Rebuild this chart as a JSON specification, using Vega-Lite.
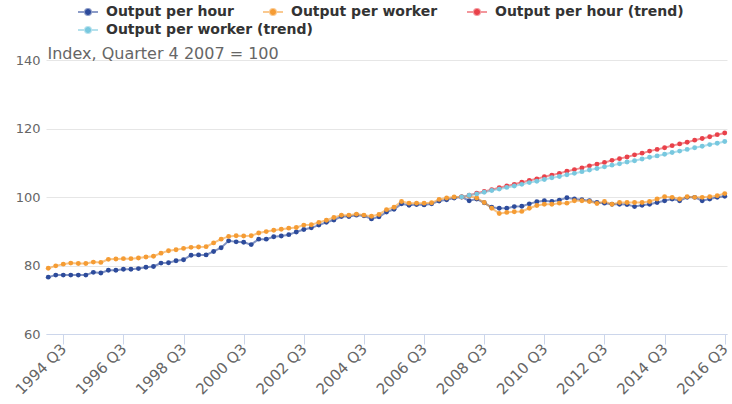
{
  "$schema": "https://vega.github.io/schema/vega-lite/v6.json",
  "width": 681,
  "height": 274,
  "autosize": {"type": "none"},
  "padding": {"left": 46, "top": 60, "right": 5, "bottom": 70},
  "background": "white",
  "config": {"font": "DejaVu Sans", "view": {"stroke": null}},
  "data": {"values": [
    {"q": "1994 Q1", "h": 76.6, "w": 79.2},
    {"q": "1994 Q2", "h": 77.2, "w": 79.9},
    {"q": "1994 Q3", "h": 77.2, "w": 80.4},
    {"q": "1994 Q4", "h": 77.2, "w": 80.7},
    {"q": "1995 Q1", "h": 77.2, "w": 80.6},
    {"q": "1995 Q2", "h": 77.2, "w": 80.6},
    {"q": "1995 Q3", "h": 78.0, "w": 81.0},
    {"q": "1995 Q4", "h": 77.8, "w": 80.9},
    {"q": "1996 Q1", "h": 78.6, "w": 81.8},
    {"q": "1996 Q2", "h": 78.6, "w": 81.9},
    {"q": "1996 Q3", "h": 78.9, "w": 82.0},
    {"q": "1996 Q4", "h": 78.9, "w": 82.0},
    {"q": "1997 Q1", "h": 79.1, "w": 82.2},
    {"q": "1997 Q2", "h": 79.5, "w": 82.5},
    {"q": "1997 Q3", "h": 79.7, "w": 82.7},
    {"q": "1997 Q4", "h": 80.7, "w": 83.6},
    {"q": "1998 Q1", "h": 80.8, "w": 84.3},
    {"q": "1998 Q2", "h": 81.4, "w": 84.6},
    {"q": "1998 Q3", "h": 81.7, "w": 85.0},
    {"q": "1998 Q4", "h": 83.0, "w": 85.3},
    {"q": "1999 Q1", "h": 83.1, "w": 85.4},
    {"q": "1999 Q2", "h": 83.1, "w": 85.5},
    {"q": "1999 Q3", "h": 84.1, "w": 86.6},
    {"q": "1999 Q4", "h": 85.2, "w": 87.7},
    {"q": "2000 Q1", "h": 87.2, "w": 88.5},
    {"q": "2000 Q2", "h": 86.9, "w": 88.7},
    {"q": "2000 Q3", "h": 86.8, "w": 88.6},
    {"q": "2000 Q4", "h": 86.1, "w": 88.7},
    {"q": "2001 Q1", "h": 87.7, "w": 89.5},
    {"q": "2001 Q2", "h": 87.7, "w": 89.9},
    {"q": "2001 Q3", "h": 88.4, "w": 90.3},
    {"q": "2001 Q4", "h": 88.6, "w": 90.6},
    {"q": "2002 Q1", "h": 89.0, "w": 90.9},
    {"q": "2002 Q2", "h": 89.8, "w": 91.1},
    {"q": "2002 Q3", "h": 90.5, "w": 91.8},
    {"q": "2002 Q4", "h": 91.0, "w": 91.9},
    {"q": "2003 Q1", "h": 91.8, "w": 92.6},
    {"q": "2003 Q2", "h": 92.6, "w": 93.2},
    {"q": "2003 Q3", "h": 93.3, "w": 94.0},
    {"q": "2003 Q4", "h": 94.3, "w": 94.7},
    {"q": "2004 Q1", "h": 94.3, "w": 94.7},
    {"q": "2004 Q2", "h": 94.7, "w": 95.0},
    {"q": "2004 Q3", "h": 94.5, "w": 94.7},
    {"q": "2004 Q4", "h": 93.6, "w": 94.4},
    {"q": "2005 Q1", "h": 94.2, "w": 94.9},
    {"q": "2005 Q2", "h": 95.6, "w": 96.3},
    {"q": "2005 Q3", "h": 96.4, "w": 97.0},
    {"q": "2005 Q4", "h": 98.0, "w": 98.7},
    {"q": "2006 Q1", "h": 97.6, "w": 98.2},
    {"q": "2006 Q2", "h": 97.8, "w": 98.2},
    {"q": "2006 Q3", "h": 97.7, "w": 98.2},
    {"q": "2006 Q4", "h": 98.0, "w": 98.3},
    {"q": "2007 Q1", "h": 98.8, "w": 99.3},
    {"q": "2007 Q2", "h": 99.2, "w": 99.7},
    {"q": "2007 Q3", "h": 99.7, "w": 100.0},
    {"q": "2007 Q4", "h": 100.0, "w": 100.0, "ht": 100.0, "wt": 100.0},
    {"q": "2008 Q1", "h": 98.9, "w": 100.3, "ht": 100.5, "wt": 100.5},
    {"q": "2008 Q2", "h": 99.4, "w": 99.7, "ht": 101.1, "wt": 100.9},
    {"q": "2008 Q3", "h": 98.3, "w": 98.4, "ht": 101.6, "wt": 101.4},
    {"q": "2008 Q4", "h": 97.0, "w": 96.7, "ht": 102.1, "wt": 101.9},
    {"q": "2009 Q1", "h": 96.7, "w": 95.2, "ht": 102.7, "wt": 102.3},
    {"q": "2009 Q2", "h": 96.7, "w": 95.5, "ht": 103.2, "wt": 102.8},
    {"q": "2009 Q3", "h": 97.2, "w": 95.7, "ht": 103.7, "wt": 103.2},
    {"q": "2009 Q4", "h": 97.3, "w": 95.8, "ht": 104.3, "wt": 103.7},
    {"q": "2010 Q1", "h": 98.0, "w": 96.7, "ht": 104.8, "wt": 104.2},
    {"q": "2010 Q2", "h": 98.6, "w": 97.5, "ht": 105.3, "wt": 104.6},
    {"q": "2010 Q3", "h": 98.9, "w": 97.9, "ht": 105.9, "wt": 105.1},
    {"q": "2010 Q4", "h": 98.7, "w": 97.9, "ht": 106.4, "wt": 105.6},
    {"q": "2011 Q1", "h": 99.1, "w": 98.2, "ht": 106.9, "wt": 106.0},
    {"q": "2011 Q2", "h": 99.8, "w": 98.2, "ht": 107.5, "wt": 106.5},
    {"q": "2011 Q3", "h": 99.4, "w": 98.9, "ht": 108.0, "wt": 106.9},
    {"q": "2011 Q4", "h": 99.2, "w": 98.9, "ht": 108.5, "wt": 107.4},
    {"q": "2012 Q1", "h": 98.9, "w": 98.7, "ht": 109.1, "wt": 107.9},
    {"q": "2012 Q2", "h": 98.4, "w": 98.1, "ht": 109.6, "wt": 108.3},
    {"q": "2012 Q3", "h": 98.2, "w": 98.7, "ht": 110.1, "wt": 108.8},
    {"q": "2012 Q4", "h": 97.9, "w": 97.9, "ht": 110.7, "wt": 109.3},
    {"q": "2013 Q1", "h": 97.9, "w": 98.4, "ht": 111.2, "wt": 109.7},
    {"q": "2013 Q2", "h": 97.8, "w": 98.4, "ht": 111.7, "wt": 110.2},
    {"q": "2013 Q3", "h": 97.2, "w": 98.4, "ht": 112.3, "wt": 110.6},
    {"q": "2013 Q4", "h": 97.6, "w": 98.4, "ht": 112.8, "wt": 111.1},
    {"q": "2014 Q1", "h": 97.9, "w": 98.7, "ht": 113.4, "wt": 111.6},
    {"q": "2014 Q2", "h": 98.4, "w": 99.4, "ht": 113.9, "wt": 112.0},
    {"q": "2014 Q3", "h": 98.9, "w": 100.1, "ht": 114.4, "wt": 112.5},
    {"q": "2014 Q4", "h": 99.4, "w": 99.9, "ht": 115.0, "wt": 113.0},
    {"q": "2015 Q1", "h": 98.9, "w": 99.4, "ht": 115.5, "wt": 113.4},
    {"q": "2015 Q2", "h": 99.9, "w": 100.1, "ht": 116.0, "wt": 113.9},
    {"q": "2015 Q3", "h": 99.9, "w": 99.9, "ht": 116.6, "wt": 114.4},
    {"q": "2015 Q4", "h": 98.9, "w": 99.9, "ht": 117.1, "wt": 114.8},
    {"q": "2016 Q1", "h": 99.4, "w": 100.1, "ht": 117.6, "wt": 115.3},
    {"q": "2016 Q2", "h": 99.9, "w": 100.4, "ht": 118.2, "wt": 115.7},
    {"q": "2016 Q3", "h": 100.2, "w": 101.0, "ht": 118.7, "wt": 116.2}
  ]},
  "encoding": {
    "x": {
      "field": "q", "type": "ordinal", "sort": null,
      "scale": {"type": "point", "padding": 0.3},
      "axis": {
        "title": null,
        "values": ["1994 Q3", "1996 Q3", "1998 Q3", "2000 Q3", "2002 Q3", "2004 Q3", "2006 Q3", "2008 Q3", "2010 Q3", "2012 Q3", "2014 Q3", "2016 Q3"],
        "labelAngle": -45, "labelAlign": "right", "labelBaseline": "middle",
        "labelColor": "#666666", "labelFontSize": 15, "labelPadding": 2,
        "domainColor": "#ccd6eb", "tickColor": "#ccd6eb", "tickSize": 10,
        "grid": false
      }
    },
    "y": {
      "field": "value", "type": "quantitative",
      "scale": {"domain": [60, 140]},
      "axis": {
        "title": "Index, Quarter 4 2007 = 100",
        "titleAngle": 0, "titleAlign": "left", "titleBaseline": "alphabetic",
        "titleX": 1, "titleY": -2, "titleFontWeight": "normal",
        "titleColor": "#666666", "titleFontSize": 16,
        "values": [60, 80, 100, 120, 140],
        "domain": false, "ticks": false,
        "labelColor": "#666666", "labelFontSize": 13, "labelPadding": 6,
        "gridColor": "#e6e6e6"
      }
    }
  },
  "layer": [
    {
      "transform": [{"fold": ["h", "w", "ht", "wt"], "as": ["series", "value"]}],
      "mark": {"type": "line", "strokeWidth": 2, "opacity": 0.6},
      "encoding": {
        "color": {
          "field": "series", "type": "nominal",
          "scale": {"domain": ["h", "w", "ht", "wt"], "range": ["#2d4b9b", "#f59c34", "#e9414a", "#78c8df"]},
          "legend": {
            "orient": "none", "legendX": 31, "legendY": -59,
            "direction": "horizontal", "columns": 3,
            "values": ["h", "w", "ht"],
            "title": null,
            "labelExpr": "{'h': 'Output per hour', 'w': 'Output per worker', 'ht': 'Output per hour (trend)', 'wt': 'Output per worker (trend)'}[datum.value]",
            "labelFontSize": 14, "labelFontWeight": "bold", "labelColor": "#333333", "labelLimit": 400,
            "labelOffset": 7, "columnPadding": 25,
            "symbolType": "M-1,0L1,0M0.3,0A0.3,0.3 0 1,1 -0.3,0A0.3,0.3 0 1,1 0.3,0Z",
            "symbolSize": 400, "symbolStrokeWidth": 2, "symbolOpacity": 1,
            "encode": {"symbols": {"update": {
              "fill": {"scale": "color", "field": "value"},
              "stroke": {"scale": "color", "field": "value"},
              "opacity": {"value": 1},
              "strokeOpacity": {"value": 0.55},
              "fillOpacity": {"value": 1}
            }}}
          }
        }
      }
    },
    {
      "transform": [{"fold": ["h", "w", "ht", "wt"], "as": ["s2", "value"]}],
      "mark": {"type": "circle", "size": 24, "opacity": 1},
      "encoding": {
        "fill": {
          "field": "s2", "type": "nominal",
          "scale": {"domain": ["wt", "ht", "w", "h"], "range": ["#78c8df", "#e9414a", "#f59c34", "#2d4b9b"]},
          "legend": {
            "orient": "none", "legendX": 31, "legendY": -41,
            "direction": "horizontal", "columns": 3,
            "values": ["wt"],
            "title": null,
            "labelExpr": "{'h': 'Output per hour', 'w': 'Output per worker', 'ht': 'Output per hour (trend)', 'wt': 'Output per worker (trend)'}[datum.value]",
            "labelFontSize": 14, "labelFontWeight": "bold", "labelColor": "#333333", "labelLimit": 400,
            "labelOffset": 7, "columnPadding": 25,
            "symbolType": "M-1,0L1,0M0.3,0A0.3,0.3 0 1,1 -0.3,0A0.3,0.3 0 1,1 0.3,0Z",
            "symbolSize": 400, "symbolStrokeWidth": 2, "symbolOpacity": 1,
            "encode": {"symbols": {"update": {
              "fill": {"scale": "fill", "field": "value"},
              "stroke": {"scale": "fill", "field": "value"},
              "opacity": {"value": 1},
              "strokeOpacity": {"value": 0.55},
              "fillOpacity": {"value": 1}
            }}}
          }
        }
      }
    }
  ]
}
